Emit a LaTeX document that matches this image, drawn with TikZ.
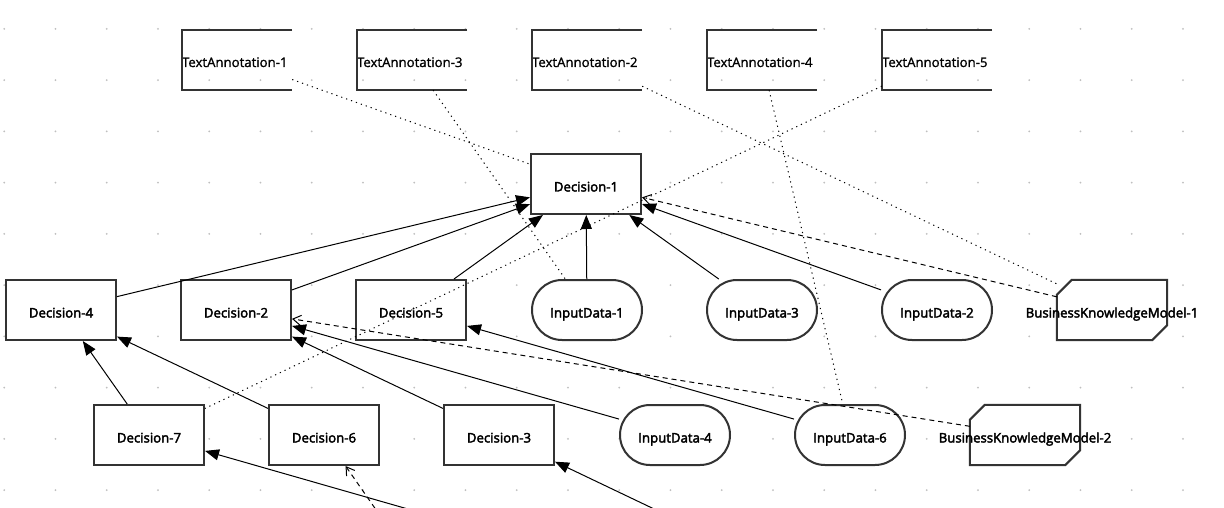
\documentclass[tikz,border=0pt]{standalone}
\usepackage{fontspec}
\setmainfont{Open Sans}[FakeBold=1]
\newfontfamily\semib{Open Sans}[FakeBold=2.8]
\newfontfamily\regf{Open Sans}[FakeBold=1.2]
\usetikzlibrary{arrows.meta}
\pgfdeclarelayer{grid}
\pgfdeclarelayer{background}
\pgfsetlayers{grid,background,main}
\begin{document}
\begin{tikzpicture}[x=1pt,y=-1pt,
  shapeline/.style={draw=black!80, line width=2pt},
  txt/.style={text height=15pt, text depth=0pt},
  dec/.style={shapeline, fill=white, minimum width=110pt, minimum height=60pt, inner sep=0pt, txt,
    font=\semib\fontsize{13.2pt}{15pt}\selectfont},
  inp/.style={dec, rounded corners=30pt},
  bkm/.style={draw=none, minimum width=110pt, minimum height=60pt, inner sep=0pt, txt,
    font=\semib\fontsize{13.2pt}{15pt}\selectfont},
  ann/.style={draw=none, minimum width=110pt, minimum height=60pt, inner sep=0pt,
    text width=110pt, align=left, text height=14pt, text depth=0pt,
    font=\regf\fontsize{13.2pt}{15pt}\selectfont},
  info/.style={draw=black, line width=1pt, -{Triangle[length=14pt,width=11pt]}},
  know/.style={draw=black, line width=1pt, dash pattern=on 5pt off 4pt, -{Straight Barb[length=8pt,width=10pt]}},
  assoc/.style={draw=black, line width=1pt, dash pattern=on 1.2pt off 4pt},
]
\useasboundingbox (0,0) rectangle (1224,508);
\clip (0,0) rectangle (1224,508);
\begin{pgfonlayer}{grid}
\fill[white] (0,0) rectangle (1224,508);
\foreach \i in {0,...,23}{\foreach \j in {0,...,9}{
  \fill[black!25] (4.2+51.25*\i, 28.9+51.25*\j) circle (1pt);}}
\end{pgfonlayer}

% text annotations
\node[ann] (ta1) at (237,60) {TextAnnotation-1};
\node[ann] (ta3) at (412,60) {TextAnnotation-3};
\node[ann] (ta2) at (587,60) {TextAnnotation-2};
\node[ann] (ta4) at (762,60) {TextAnnotation-4};
\node[ann] (ta5) at (937,60) {TextAnnotation-5};
\foreach \n in {ta1,ta2,ta3,ta4,ta5}
  \draw[shapeline] (\n.north east) -- (\n.north west) -- (\n.south west) -- (\n.south east);

% decisions and inputs
\node[dec] (d1) at (586,184) {Decision-1};
\node[dec] (d4) at (61,310) {Decision-4};
\node[dec] (d2) at (236,310) {Decision-2};
\node[dec] (d5) at (411,310) {Decision-5};
\node[inp] (i1) at (587,310) {InputData-1};
\node[inp] (i3) at (762,310) {InputData-3};
\node[inp] (i2) at (937,310) {InputData-2};
\node[bkm] (b1) at (1112,310) {\makebox[0pt]{BusinessKnowledgeModel-1}};
\node[dec] (d7) at (149,435) {Decision-7};
\node[dec] (d6) at (324,435) {Decision-6};
\node[dec] (d3) at (499,435) {Decision-3};
\node[inp] (i4) at (675,435) {InputData-4};
\node[inp] (i6) at (850,435) {InputData-6};
\node[bkm] (b2) at (1025,435) {\makebox[0pt]{BusinessKnowledgeModel-2}};

\begin{pgfonlayer}{background}
\foreach \n in {b1,b2}
  \filldraw[shapeline, fill=white] ([yshift=-15pt]\n.north west) -- ([xshift=15pt]\n.north west)
    -- (\n.north east) -- ([yshift=15pt]\n.south east) -- ([xshift=-15pt]\n.south east)
    -- (\n.south west) -- cycle;
\end{pgfonlayer}

% sources outside the visible area
\coordinate (s7) at (586,560);
\coordinate (s3) at (761,560);
\coordinate (s6) at (411,560);

% information requirements
\draw[info] (d4) -- (d1);
\draw[info] (d2) -- (d1);
\draw[info] (d5) -- (d1);
\draw[info] (i1) -- (d1);
\draw[info] (i3) -- (d1);
\draw[info] (i2) -- (d1);
\draw[info] (d7) -- (d4);
\draw[info] (d6) -- (d4);
\draw[info] (d3) -- (d2);
\draw[info] (i4) -- (d2);
\draw[info] (i6) -- (d5);
\draw[info] (s7) -- (d7);
\draw[info] (s3) -- (d3);

% knowledge requirements
\draw[know] (b1) -- (d1);
\draw[know] (b2) -- (d2);
\draw[know] (s6) -- (d6);

% associations
\draw[assoc] (ta1) -- (d1);
\draw[assoc] (ta3) -- (i1);
\draw[assoc] (ta2) -- (b1);
\draw[assoc] (ta4) -- (i6);
\draw[assoc] (ta5) -- (d7);
\end{tikzpicture}
\end{document}
